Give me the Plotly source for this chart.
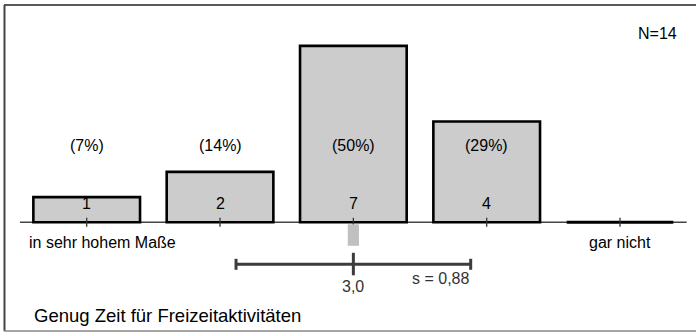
import plotly.graph_objects as go

# ---- data ----
categories = [1, 2, 3, 4, 5]
counts = [1, 2, 7, 4, 0]
percent_labels = ["(7%)", "(14%)", "(50%)", "(29%)", ""]
end_labels = {1: "in sehr hohem Maße", 5: "gar nicht"}
n_total = 14
mean_value = 3.0
std_value = 0.88
title_text = "Genug Zeit für Freizeitaktivitäten"

FONT = "Liberation Sans, Arial, sans-serif"
BAR_W = 0.8

fig = go.Figure()

# bars with non-zero counts
fig.add_trace(go.Bar(
    x=[c for c, n in zip(categories, counts) if n > 0],
    y=[n for n in counts if n > 0],
    width=BAR_W,
    marker=dict(color="#cccccc", line=dict(color="#000000", width=2.6)),
    hoverinfo="skip",
))
# zero-count categories drawn as flat bars
for c, n in zip(categories, counts):
    if n == 0:
        fig.add_trace(go.Scatter(
            x=[c - BAR_W / 2, c + BAR_W / 2], y=[n, n], mode="lines",
            line=dict(color="#000000", width=3), hoverinfo="skip",
        ))

shapes = []
# baseline
shapes.append(dict(type="line", xref="x", yref="y",
                   x0=categories[0] - 0.5, x1=categories[-1] + 0.5, y0=0, y1=0,
                   line=dict(color="#444444", width=1.5), layer="below"))
# ticks
for c in categories:
    shapes.append(dict(type="line", xref="x", yref="y", ysizemode="pixel", yanchor=0,
                       x0=c, x1=c, y0=4.5, y1=-4.5,
                       line=dict(color="#333333", width=1.3), layer="above"))
# mean marker
shapes.append(dict(type="rect", xref="x", yref="y", ysizemode="pixel", yanchor=0,
                   x0=mean_value - 0.042, x1=mean_value + 0.042, y0=-2, y1=-23.5,
                   line=dict(width=0), fillcolor="#c0c0c0"))
# std bar
ERR = "#3c3c3c"
shapes.append(dict(type="line", xref="x", yref="y", ysizemode="pixel", yanchor=0,
                   x0=mean_value - std_value, x1=mean_value + std_value, y0=-42, y1=-42,
                   line=dict(color=ERR, width=3)))
for xe in (mean_value - std_value, mean_value + std_value):
    shapes.append(dict(type="line", xref="x", yref="y", ysizemode="pixel", yanchor=0,
                       x0=xe, x1=xe, y0=-36.5, y1=-47.5,
                       line=dict(color=ERR, width=3)))
shapes.append(dict(type="line", xref="x", yref="y", ysizemode="pixel", yanchor=0,
                   x0=mean_value, x1=mean_value, y0=-30.5, y1=-53,
                   line=dict(color=ERR, width=3)))
# frame
shapes.append(dict(type="line", xref="paper", yref="paper",
                   x0=4 / 696, x1=1, y0=1 - 5 / 332, y1=1 - 5 / 332,
                   line=dict(color="#222222", width=1.5)))
shapes.append(dict(type="line", xref="paper", yref="paper",
                   x0=4.5 / 696, x1=4.5 / 696, y0=1 - 5 / 332, y1=1 / 332,
                   line=dict(color="#444444", width=2)))
shapes.append(dict(type="line", xref="paper", yref="paper",
                   x0=4 / 696, x1=1, y0=1 / 332, y1=1 / 332,
                   line=dict(color="#888888", width=1.5)))

annotations = []
for c, n, p in zip(categories, counts, percent_labels):
    if n > 0:
        annotations.append(dict(x=c, y=0, xref="x", yref="y", text=str(n), showarrow=False,
                                yshift=19, font=dict(size=16, color="#000000", family=FONT)))
    if p:
        annotations.append(dict(x=c, y=0, xref="x", yref="y", text=p, showarrow=False,
                                yshift=77, font=dict(size=16, color="#000000", family=FONT)))
annotations.append(dict(x=categories[0] - 0.45, y=0, xref="x", yref="y", text=end_labels[1],
                        showarrow=False, xanchor="left", yshift=-20,
                        font=dict(size=16, color="#000000", family=FONT)))
annotations.append(dict(x=categories[-1], y=0, xref="x", yref="y", text=end_labels[5],
                        showarrow=False, yshift=-20,
                        font=dict(size=16, color="#000000", family=FONT)))
annotations.append(dict(x=mean_value, y=0, xref="x", yref="y",
                        text=f"{mean_value:.1f}".replace(".", ","), showarrow=False, yshift=-64.5,
                        font=dict(size=16, color="#333333", family=FONT)))
annotations.append(dict(x=mean_value + std_value, y=0, xref="x", yref="y",
                        text="s = " + f"{std_value:.2f}".replace(".", ","), showarrow=False,
                        xanchor="right", yshift=-56,
                        font=dict(size=16, color="#333333", family=FONT)))
annotations.append(dict(x=679 / 696, y=1 - 34 / 332, xref="paper", yref="paper",
                        text=f"N={n_total}", showarrow=False, xanchor="right", yanchor="middle",
                        font=dict(size=16, color="#000000", family=FONT)))
annotations.append(dict(x=32 / 696, y=1 - 315 / 332, xref="paper", yref="paper",
                        text=title_text, showarrow=False, xanchor="left", yanchor="middle",
                        font=dict(size=18.5, color="#000000", family=FONT)))

fig.update_layout(
    width=696, height=332,
    margin=dict(l=0, r=0, t=0, b=0),
    paper_bgcolor="#ffffff", plot_bgcolor="#ffffff",
    showlegend=False,
    xaxis=dict(range=[0.3498, 5.5698], visible=False, fixedrange=True),
    yaxis=dict(range=[-4.353, 8.821], visible=False, fixedrange=True),
    shapes=shapes, annotations=annotations,
    font=dict(family=FONT),
)

fig.write_html(
    "out.html",
    config={"displayModeBar": False},
    post_script="document.body.style.margin='0';document.body.style.overflow='hidden';",
)
